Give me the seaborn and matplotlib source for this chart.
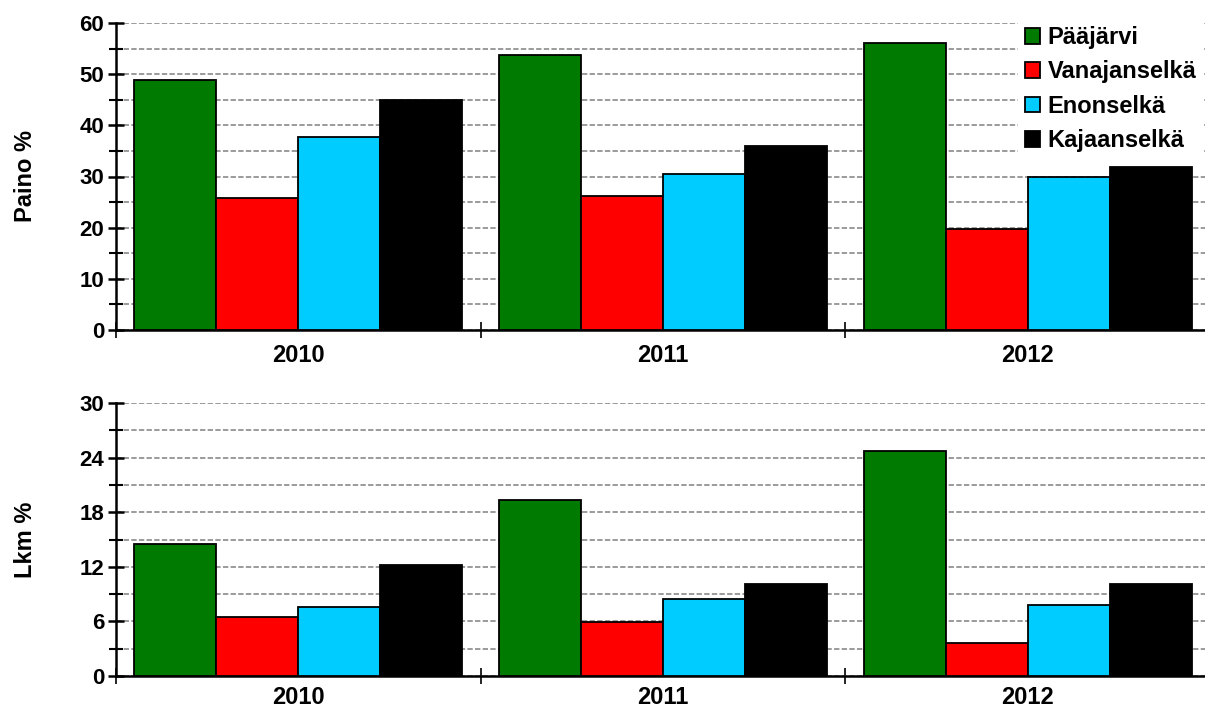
import numpy as np
import pandas as pd
import matplotlib
matplotlib.use("Agg")
import matplotlib.pyplot as plt
from matplotlib.ticker import MultipleLocator
from matplotlib.transforms import offset_copy
import seaborn as sns

years = ["2010", "2011", "2012"]
sites = ["Pääjärvi", "Vanajanselkä", "Enonselkä", "Kajaanselkä"]
colors = ["#007A00", "#FF0000", "#00CCFF", "#000000"]

paino_paajarvi = [48.8, 53.7, 56.0]
paino_vanajanselka = [25.8, 26.2, 19.7]
paino_enonselka = [37.7, 30.5, 29.9]
paino_kajaanselka = [44.9, 35.9, 31.8]

lkm_paajarvi = [14.5, 19.3, 24.7]
lkm_vanajanselka = [6.5, 5.9, 3.6]
lkm_enonselka = [7.6, 8.5, 7.8]
lkm_kajaanselka = [12.2, 10.1, 10.1]

def long_df(series):
    rows = []
    for site, vals in zip(sites, series):
        for y, v in zip(years, vals):
            rows.append({"year": y, "site": site, "value": v})
    return pd.DataFrame(rows)

df_paino = long_df([paino_paajarvi, paino_vanajanselka, paino_enonselka, paino_kajaanselka])
df_lkm = long_df([lkm_paajarvi, lkm_vanajanselka, lkm_enonselka, lkm_kajaanselka])

sns.set_theme(style="white")
plt.rcParams["font.family"] = ["Liberation Sans", "DejaVu Sans"]
plt.rcParams["font.weight"] = "bold"
for k in ["text.color", "axes.labelcolor", "xtick.color", "ytick.color", "xtick.labelcolor", "ytick.labelcolor"]:
    plt.rcParams[k] = "black"

FS_TICK = 16
FS = 17
fig = plt.figure(figsize=(12.05, 7.11), dpi=100)
W, H = 1205, 711
ax1 = fig.add_axes([116 / W, 1 - 330 / H, (1210 - 116) / W, (330 - 23) / H])
ax2 = fig.add_axes([116 / W, 1 - 676 / H, (1210 - 116) / W, (676 - 403) / H])

pal = dict(zip(sites, colors))

def style(ax, df, ymax, major, minor, ylabel, legend, year_off):
    sns.barplot(data=df, x="year", y="value", hue="site", palette=pal,
                order=years, hue_order=sites, width=0.9, gap=0,
                edgecolor="black", linewidth=1.3, saturation=1, ax=ax,
                legend=legend, zorder=3)
    ax.set_xlim(-0.5, 2.5)
    ax.set_ylim(0, ymax)
    ax.yaxis.set_major_locator(MultipleLocator(major))
    ax.yaxis.set_minor_locator(MultipleLocator(minor))
    ax.grid(True, which="both", axis="y", color="#808080", linestyle=(0, (3.5, 1.5)), linewidth=1.1, zorder=0)
    ax.set_axisbelow(True)
    for s in ["top", "right"]:
        ax.spines[s].set_visible(False)
    for s in ["left", "bottom"]:
        ax.spines[s].set_color("black")
        ax.spines[s].set_linewidth(1.8)
    ax.tick_params(axis="y", which="major", direction="inout", length=11, width=1.8, labelsize=FS_TICK,
                   pad=3, left=True, colors="black")
    ax.tick_params(axis="y", which="minor", direction="inout", length=10, width=1.5, left=True, colors="black")
    ax.set_xticks([-0.5, 0.5, 1.5, 2.5], minor=False)
    ax.set_xticklabels([])
    ax.tick_params(axis="x", which="major", direction="inout", length=12, width=1.2, bottom=True, colors="black")
    tr = offset_copy(ax.get_xaxis_transform(), fig=fig, x=0, y=-year_off, units="dots")
    for i, y in enumerate(years):
        ax.text(i, 0, y, transform=tr, ha="center", va="center",
                fontsize=FS, fontweight="bold", color="black")
    for lab in ax.get_yticklabels():
        lab.set_fontweight("bold")
    ax.set_xlabel("")
    ax.set_ylabel(ylabel, fontsize=FS, fontweight="bold", color="black")
    ax.yaxis.set_label_coords(-(116 - 37) / 1094, 0.5)

style(ax1, df_paino, 60, 10, 5, "Paino %", True, 26)
style(ax2, df_lkm, 30, 6, 3, "Lkm %", False, 21)

leg = ax1.legend(loc="upper left", bbox_to_anchor=(1018 / W, 1 - 19 / H),
                 bbox_transform=fig.transFigure, frameon=True,
                 fontsize=FS, handlelength=0.65, handleheight=0.65, handletextpad=0.3,
                 labelspacing=0.48, borderpad=0.3, borderaxespad=0)
leg.get_frame().set_facecolor("white")
leg.get_frame().set_edgecolor("white")
leg.get_frame().set_alpha(1)
leg.get_frame().set_boxstyle("square", pad=0)
for t in leg.get_texts():
    t.set_fontweight("bold")
    t.set_color("black")

fig.savefig("out.png", dpi=100)
